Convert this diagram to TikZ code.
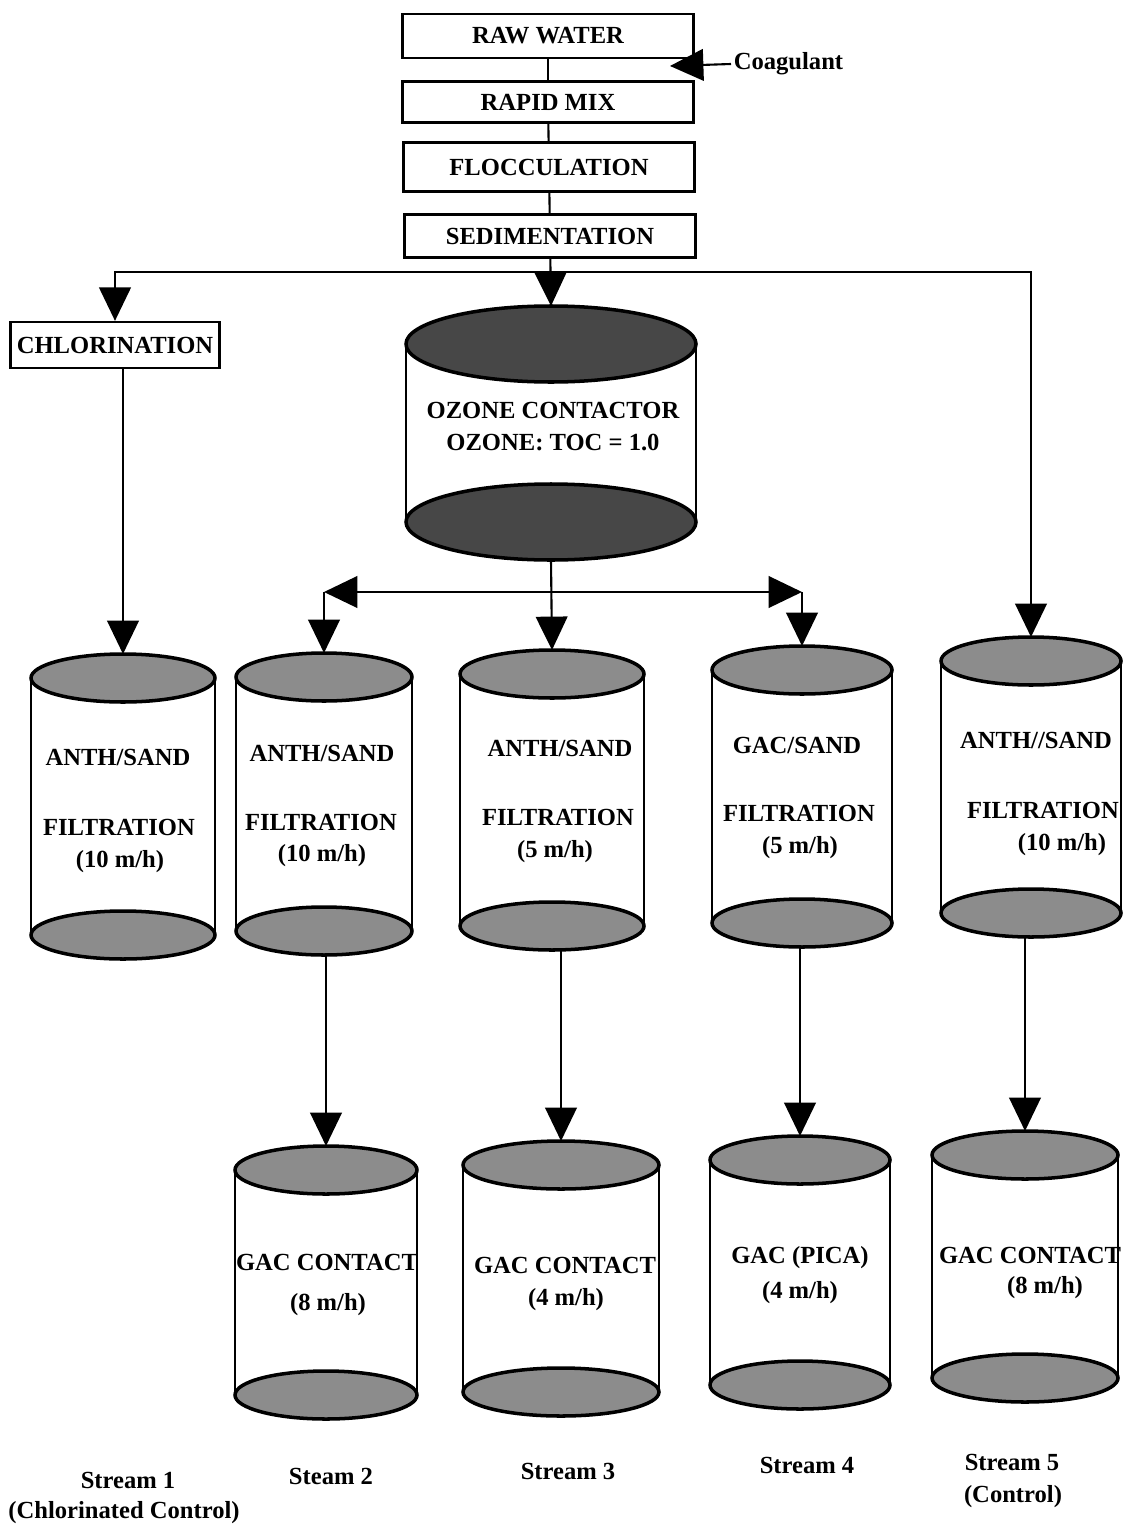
\documentclass[tikz,border=0pt]{standalone}
\usepackage{fontspec}
\setmainfont{Liberation Serif}
\usetikzlibrary{arrows.meta}
\newcommand{\lblfont}{\fontsize{14}{16}\selectfont\bfseries}

\begin{document}
\begin{tikzpicture}[x=0.02cm, y=-0.02cm, line width=1.2pt,
  box/.style={draw, line width=1.3pt, inner sep=2pt, minimum width=5.82cm, font=\lblfont},
  txt/.style={font=\lblfont, inner sep=1pt},
  flow/.style={-{Triangle[width=18pt,length=19pt]}},
  tankend/.style={draw, line width=2pt, fill=black!45},
  ozend/.style={draw, line width=2pt, fill=black!72}]
\useasboundingbox[fill=white] (0,0) rectangle (1127,1531);

% treatment train
\node[box, minimum height=0.88cm] (raw) at (548,36) {RAW WATER};
\node[box, minimum height=0.82cm] (rapid) at (548,102) {RAPID MIX};
\node[box, minimum height=0.98cm] (floc) at (549,167) {FLOCCULATION};
\node[box, minimum height=0.86cm] (sed) at (550,236) {SEDIMENTATION};
\node[txt, anchor=west] (coag) at (731,64) {Coagulant};
\node[box, minimum width=4.18cm, minimum height=0.92cm] (chl) at (115,345) {CHLORINATION};

% ozone contactor
\draw[ozend] (551,522) ellipse [x radius=145, y radius=38];
\draw (406,344) -- (406,522) (696,344) -- (696,522);
\draw[ozend] (551,344) ellipse [x radius=145, y radius=38];
\coordinate (oz-t) at (551,306);
\coordinate (oz-b) at (551,560);
\node[txt] (oz1) at (553,410) {OZONE CONTACTOR};
\node[txt] (oz2) at (553,442) {OZONE: TOC = 1.0};

% filters and GAC columns
\foreach \n/\cx/\yt/\yb/\w in {f1/123/678/935/92, f2/324/677/931/88, f3/552/674/926/92,
  f4/802/670/923/90, f5/1031/661/913/90, g2/326/1170/1395/91, g3/561/1165/1392/98,
  g4/800/1160/1385/90, g5/1025/1155/1378/93}
{
  \draw[tankend] (\cx,\yb) ellipse [x radius=\w, y radius=24];
  \draw (\cx-\w,\yt) -- (\cx-\w,\yb) (\cx+\w,\yt) -- (\cx+\w,\yb);
  \draw[tankend] (\cx,\yt) ellipse [x radius=\w, y radius=24];
  \coordinate (\n-t) at (\cx,\yt-24);
  \coordinate (\n-b) at (\cx,\yb+24);
}

\node[txt] (f1a) at (118,757) {ANTH/SAND};
\node[txt] (f1b) at (119,827) {FILTRATION};
\node[txt] (f1c) at (120,862) {(10 m/h)};
\node[txt] (f2a) at (322,753) {ANTH/SAND};
\node[txt] (f2b) at (321,822) {FILTRATION};
\node[txt] (f2c) at (322,856) {(10 m/h)};
\node[txt] (f3a) at (560,748) {ANTH/SAND};
\node[txt] (f3b) at (558,817) {FILTRATION};
\node[txt] (f3c) at (555,852) {(5 m/h)};
\node[txt] (f4a) at (797,745) {GAC/SAND};
\node[txt] (f4b) at (799,813) {FILTRATION};
\node[txt] (f4c) at (800,848) {(5 m/h)};
\node[txt] (f5a) at (1036,740) {ANTH//SAND};
\node[txt] (f5b) at (1043,810) {FILTRATION};
\node[txt] (f5c) at (1062,845) {(10 m/h)};

\node[txt] (g2a) at (327,1262) {GAC CONTACT};
\node[txt] (g2b) at (328,1305) {(8 m/h)};
\node[txt] (g3a) at (565,1265) {GAC CONTACT};
\node[txt] (g3b) at (566,1300) {(4 m/h)};
\node[txt] (g4a) at (800,1258) {GAC (PICA)};
\node[txt] (g4b) at (800,1293) {(4 m/h)};
\node[txt] (g5a) at (1030,1255) {GAC CONTACT};
\node[txt] (g5b) at (1045,1288) {(8 m/h)};

% stream names
\node[txt] (s1) at (128,1480) {Stream 1};
\node[txt] (s1b) at (124,1513) {(Chlorinated Control)};
\node[txt] (s2) at (331,1476) {Steam 2};
\node[txt] (s3) at (568,1471) {Stream 3};
\node[txt] (s4) at (807,1465) {Stream 4};
\node[txt] (s5) at (1012,1462) {Stream 5};
\node[txt] (s5b) at (1013,1497) {(Control)};

% connectors
\draw (raw) -- (rapid);
\draw (rapid) -- (floc);
\draw (floc) -- (sed);
\coordinate (coagin) at (670,66);
\draw[flow] (coag.west) -- (coagin);
\draw[flow] (sed) -- (oz-t);
\coordinate (bus) at (sed.south |- 0,272);
\draw[flow] (bus) -| (chl.north);
\draw[flow] (bus) -| (f5-t);
\draw[flow] (chl.south -| f1-t) -- (f1-t);
\draw[flow] (oz-b) -- (f3-t);
\coordinate (ozbus) at (oz-b |- 0,592);
\coordinate (c2) at (f2-t |- ozbus);
\coordinate (c4) at (f4-t |- ozbus);
\draw[flow] (ozbus) -- (c2);
\draw[flow] (c2) -- (f2-t);
\draw[flow] (ozbus) -- (c4);
\draw[flow] (c4) -- (f4-t);
\foreach \n in {2,...,5}
\draw[flow] (f\n-b -| g\n-t) -- (g\n-t);
\end{tikzpicture}
\end{document}
